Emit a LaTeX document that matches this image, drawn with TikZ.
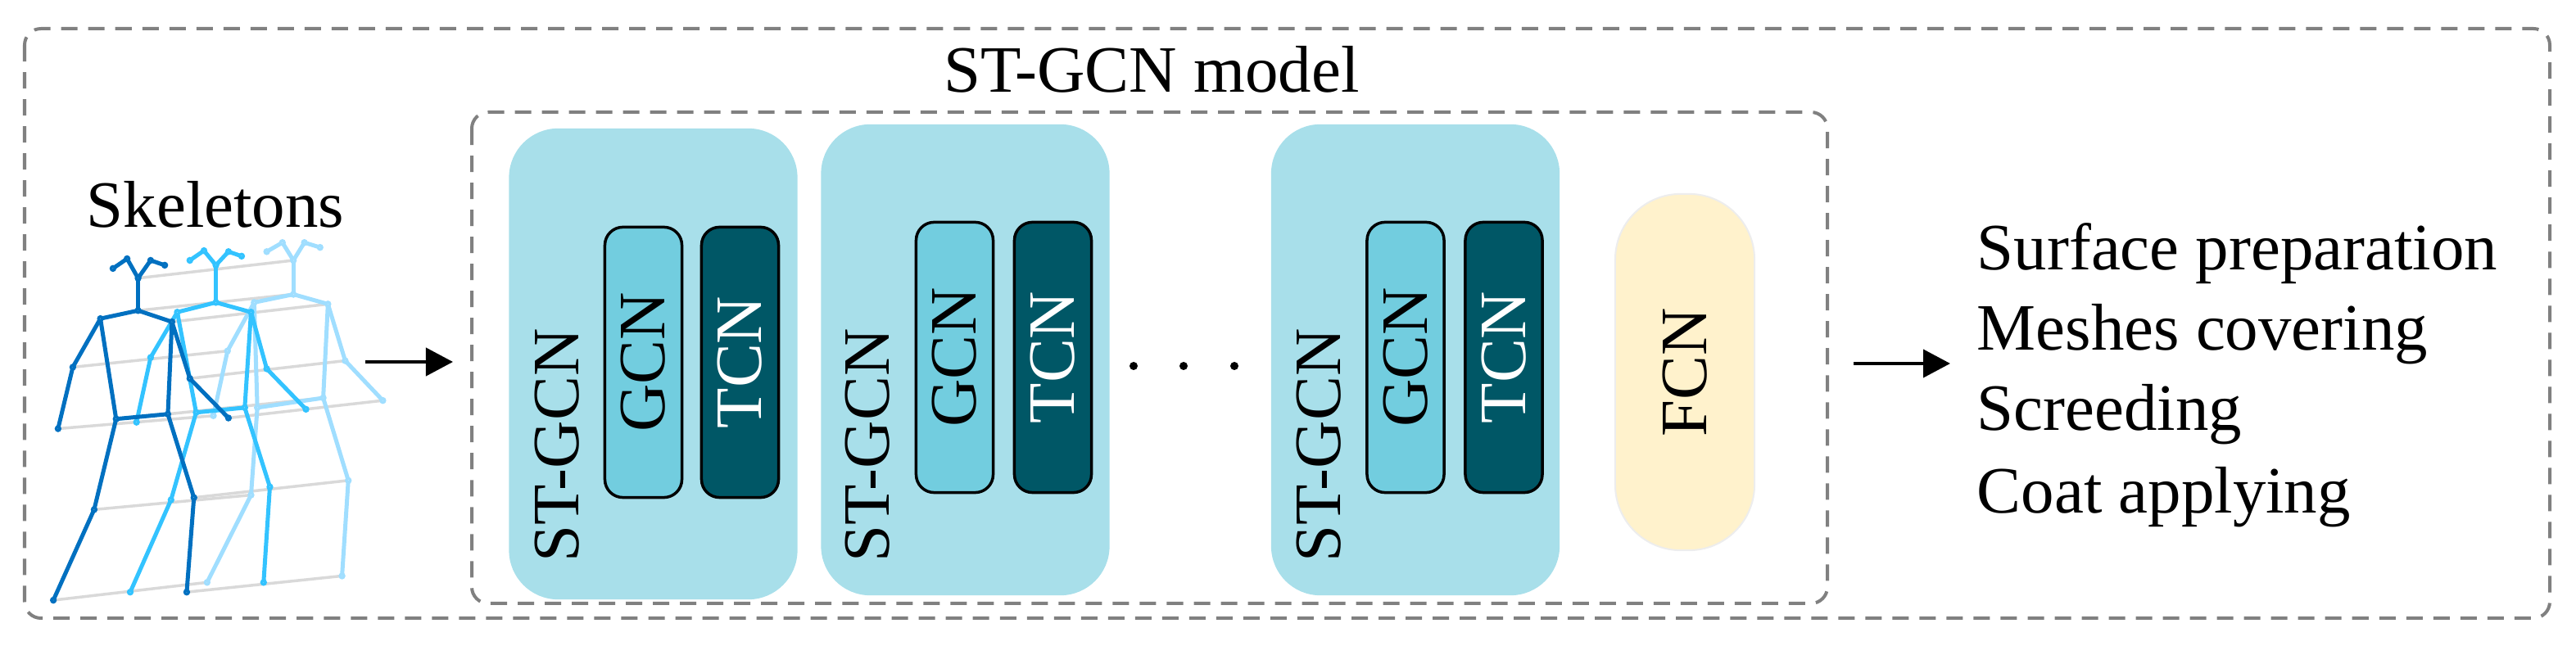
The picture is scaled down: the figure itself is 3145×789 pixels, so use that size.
\documentclass[tikz,border=0pt]{standalone}
\usepackage{fontspec}
\setmainfont{Liberation Serif}
\usetikzlibrary{arrows.meta}
\definecolor{dkb}{RGB}{0,112,192}
\definecolor{mdb}{RGB}{51,195,255}
\definecolor{ltb}{RGB}{160,222,255}
\definecolor{gry}{RGB}{217,217,217}
\definecolor{blk}{RGB}{168,223,234}
\definecolor{gcn}{RGB}{114,205,223}
\definecolor{tcn}{RGB}{0,87,102}
\definecolor{fcn}{RGB}{255,242,204}
\definecolor{dash}{RGB}{128,128,128}
\tikzset{
  txt/.style={font=\fontsize{23}{28}\selectfont, inner sep=0pt},
  dbox/.style={draw=dash, line width=0.04cm, dash pattern=on 0.2cm off 0.13cm, rounded corners=0.2cm},
  block/.style={fill=blk, rounded corners=0.6cm, minimum width=3.52cm, minimum height=5.75cm, inner sep=0pt},
  pill/.style={draw=black, line width=0.035cm, rounded corners=0.22cm, minimum width=0.94cm, minimum height=3.3cm, inner sep=0pt},
  arr/.style={line width=0.04cm, -{Triangle[length=0.33cm,width=0.34cm]}},
  bone/.style={line width=0.05cm, line cap=round},
  joint/.style={fill=white, line width=0.035cm},
}
\begin{document}
\begin{tikzpicture}[x=0.01cm,y=-0.01cm]
\useasboundingbox (0,0) rectangle (3145,789);
% outer and inner boxes
\draw[dbox] (30,35) rectangle (3113,755);
\draw[dbox] (576,137) rectangle (2231,737);
\node[txt, anchor=base] (title) at (1406,113) {ST-GCN model};
\node[txt, anchor=base] (skel) at (263,278) {Skeletons};
% skeletons
\begin{scope}[shift={(0,150)}, xscale=0.3831, yscale=0.3953]
\def\joints{e1,e2,n0,e3,e4,nk,ls,rs,le,lh,re,rh,lp,rp,lk,lf,rk,rf}
\def\bones{e1/e2,e2/n0,n0/e3,e3/e4,n0/nk,nk/ls,nk/rs,ls/le,le/lh,rs/re,re/rh,ls/lp,rs/rp,lp/rp,lp/lk,lk/lf,rp/rk,rk/rf}
% dark
\foreach \n/\p in {e1/{360,450},e2/{405,420},n0/{440,480},e3/{480,425},e4/{525,440},nk/{440,580},ls/{320,605},rs/{548,615},le/{232,755},lh/{185,945},re/{605,790},rh/{728,912},lp/{370,915},rp/{535,900},lk/{300,1195},lf/{170,1475},rk/{618,1158},rf/{595,1450}}
  \coordinate (D\n) at (\p);
\foreach \n/\p in {e1/{605,425},e2/{650,395},n0/{688,440},e3/{728,398},e4/{770,412},nk/{688,555},ls/{565,585},rs/{800,585},le/{480,725},lh/{435,925},re/{850,760},rh/{975,885},lp/{625,895},rp/{780,880},lk/{545,1165},lf/{415,1450},rk/{860,1125},rf/{840,1420}}
  \coordinate (M\n) at (\p);
\foreach \n/\p in {e1/{850,398},e2/{900,370},n0/{935,425},e3/{970,370},e4/{1020,385},nk/{935,530},ls/{810,555},rs/{1045,560},le/{725,705},lh/{680,905},re/{1100,735},rh/{1220,858},lp/{820,880},rp/{1030,850},lk/{800,1150},lf/{660,1420},rk/{1110,1105},rf/{1090,1400}}
  \coordinate (L\n) at (\p);
\foreach \n in {n0,nk,rs,le,lh,re,rh,rp,lk,lf,rk,rf}
  \draw[gry, line width=0.035cm] (D\n) -- (L\n);
\foreach \c/\col in {L/ltb,M/mdb,D/dkb}{
  \foreach \a/\b in \bones \draw[bone, \col] (\c\a) -- (\c\b);
  \foreach \n in \joints \draw[joint, draw=\col] (\c\n) circle (0.06cm);
}
\end{scope}
\coordinate (a1s) at (446,442);
\coordinate (a1e) at (553,442);
\draw[arr] (a1s) -- (a1e);
% blocks
\foreach \i/\bx/\by/\sx/\gx/\tx/\py in {1/797.5/444.5/680/785.5/903.5/442.5, 2/1178.5/439.5/1059/1165.5/1285.5/436.5, 3/1728/439.5/1610/1716/1836/436.5}{
  \node[block] (b\i) at (\bx,\by) {};
  \node[txt, rotate=90, anchor=west] (s\i) at (\sx,687) {ST-GCN};
  \node[pill, fill=gcn] (g\i) at (\gx,\py) {};
  \node[txt, rotate=90] at (g\i) {GCN};
  \node[pill, fill=tcn] (t\i) at (\tx,\py) {};
  \node[txt, rotate=90, text=white] at (t\i) {TCN};
}
\foreach \x in {1384,1445,1507} \fill (\x,447) circle (0.05cm);
\node[fill=fcn, draw=white!93!black, line width=0.02cm, rounded corners=0.8cm, minimum width=1.7cm, minimum height=4.35cm] (fc) at (2057,454.5) {};
\node[txt, rotate=90] at (fc) {FCN};
\coordinate (a2s) at (2263,444);
\coordinate (a2e) at (2381,444);
\draw[arr] (a2s) -- (a2e);
\node[txt, anchor=base west] (o1) at (2413,330) {Surface preparation};
\node[txt, anchor=base west] (o2) at (2413,428) {Meshes covering};
\node[txt, anchor=base west] (o3) at (2413,526) {Screeding};
\node[txt, anchor=base west] (o4) at (2413,627) {Coat applying};
\end{tikzpicture}
\end{document}
